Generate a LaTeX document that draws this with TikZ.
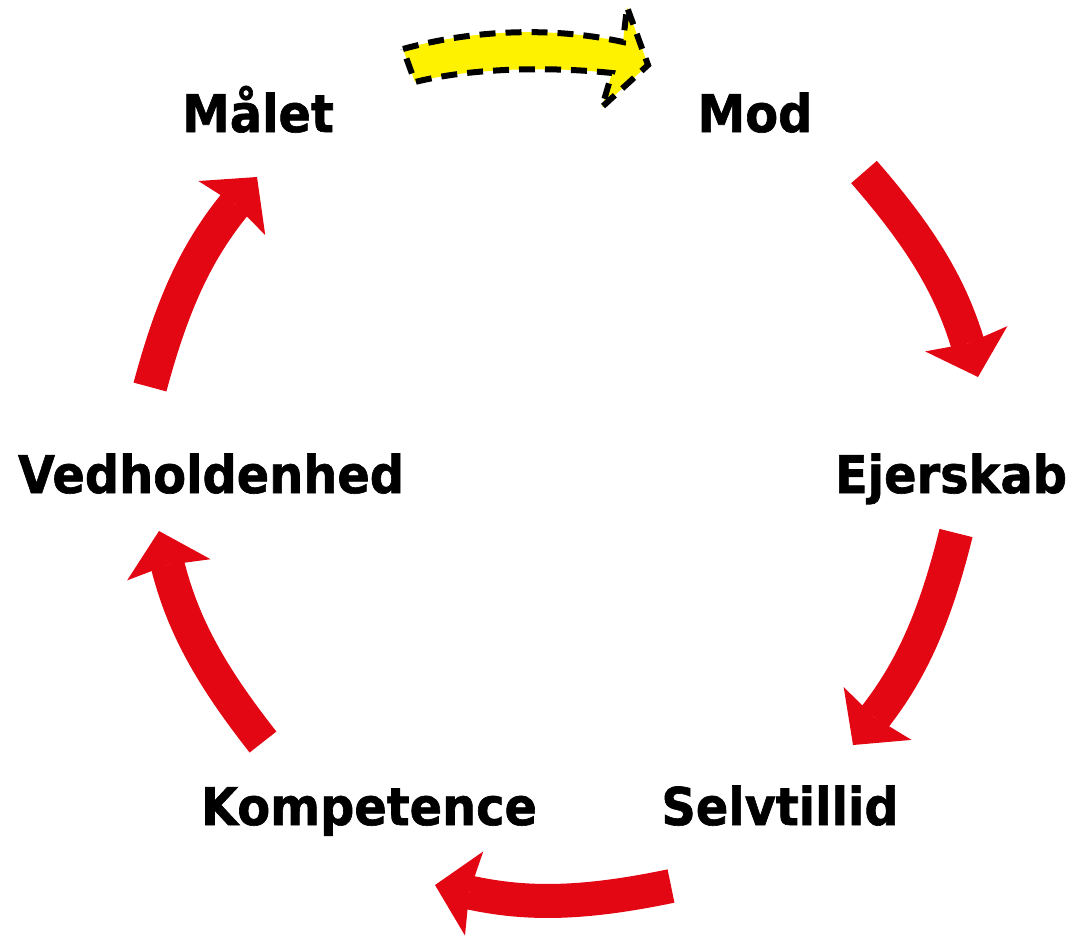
\documentclass[tikz,border=0pt]{standalone}
\usepackage{fontspec}
\newfontfamily\labelfont{DejaVu Sans}[FakeStretch=0.92,BoldFeatures={FakeBold=1.2}]
\usetikzlibrary{arrows.meta}
\definecolor{cyclered}{RGB}{227,6,19}
\definecolor{cycleyellow}{RGB}{255,242,0}

\begin{document}
\begin{tikzpicture}[x=0.1mm,y=-0.1mm,
    word/.style={anchor=base,inner sep=0pt,font=\labelfont\bfseries\fontsize{14.8pt}{18pt}\selectfont},
    redarrow/.style={cyclered,line width=3.4mm,-{Stealth[length=4mm,width=8.6mm,inset=0.5mm,line width=0pt]}}]
  \useasboundingbox (0,0) rectangle (1074,937);
  % Words round the circle
  \node[word] (malet) at (258,132) {Målet};
  \node[word] (mod) at (755,132) {Mod};
  \node[word] (ejerskab) at (951,493) {Ejerskab};
  \node[word] (selvtillid) at (780,825) {Selvtillid};
  \node[word] (kompetence) at (369,825) {Kompetence};
  \node[word] (vedholdenhed) at (211,493) {Vedholdenhed};
  % Red arrows, tail and tip
  \coordinate (t1) at (864,172); \coordinate (h1) at (978,377);
  \coordinate (t2) at (956,533); \coordinate (h2) at (853,745);
  \coordinate (t3) at (671,886); \coordinate (h3) at (435,885);
  \coordinate (t4) at (263,742); \coordinate (h4) at (159,531);
  \coordinate (t5) at (150,387); \coordinate (h5) at (257,177);
  \draw[redarrow] (t1) to[bend left=12] (h1);
  \draw[redarrow] (t2) to[bend left=12] (h2);
  \draw[redarrow] (t3) to[bend left=12] (h3);
  \draw[redarrow] (t4) to[bend left=12] (h4);
  \draw[redarrow] (t5) to[bend left=12] (h5);
  % Yellow arrow with dashed edge
  \draw[fill=cycleyellow,line width=0.6mm,dash pattern=on 1.6mm off 1mm]
    (403,49) .. controls (475,29) and (555,27) .. (623,42)
    -- (627,7) -- (648,65) -- (602,107) -- (612,73)
    .. controls (555,67) and (475,67) .. (415,82) -- cycle;
\end{tikzpicture}
\end{document}
